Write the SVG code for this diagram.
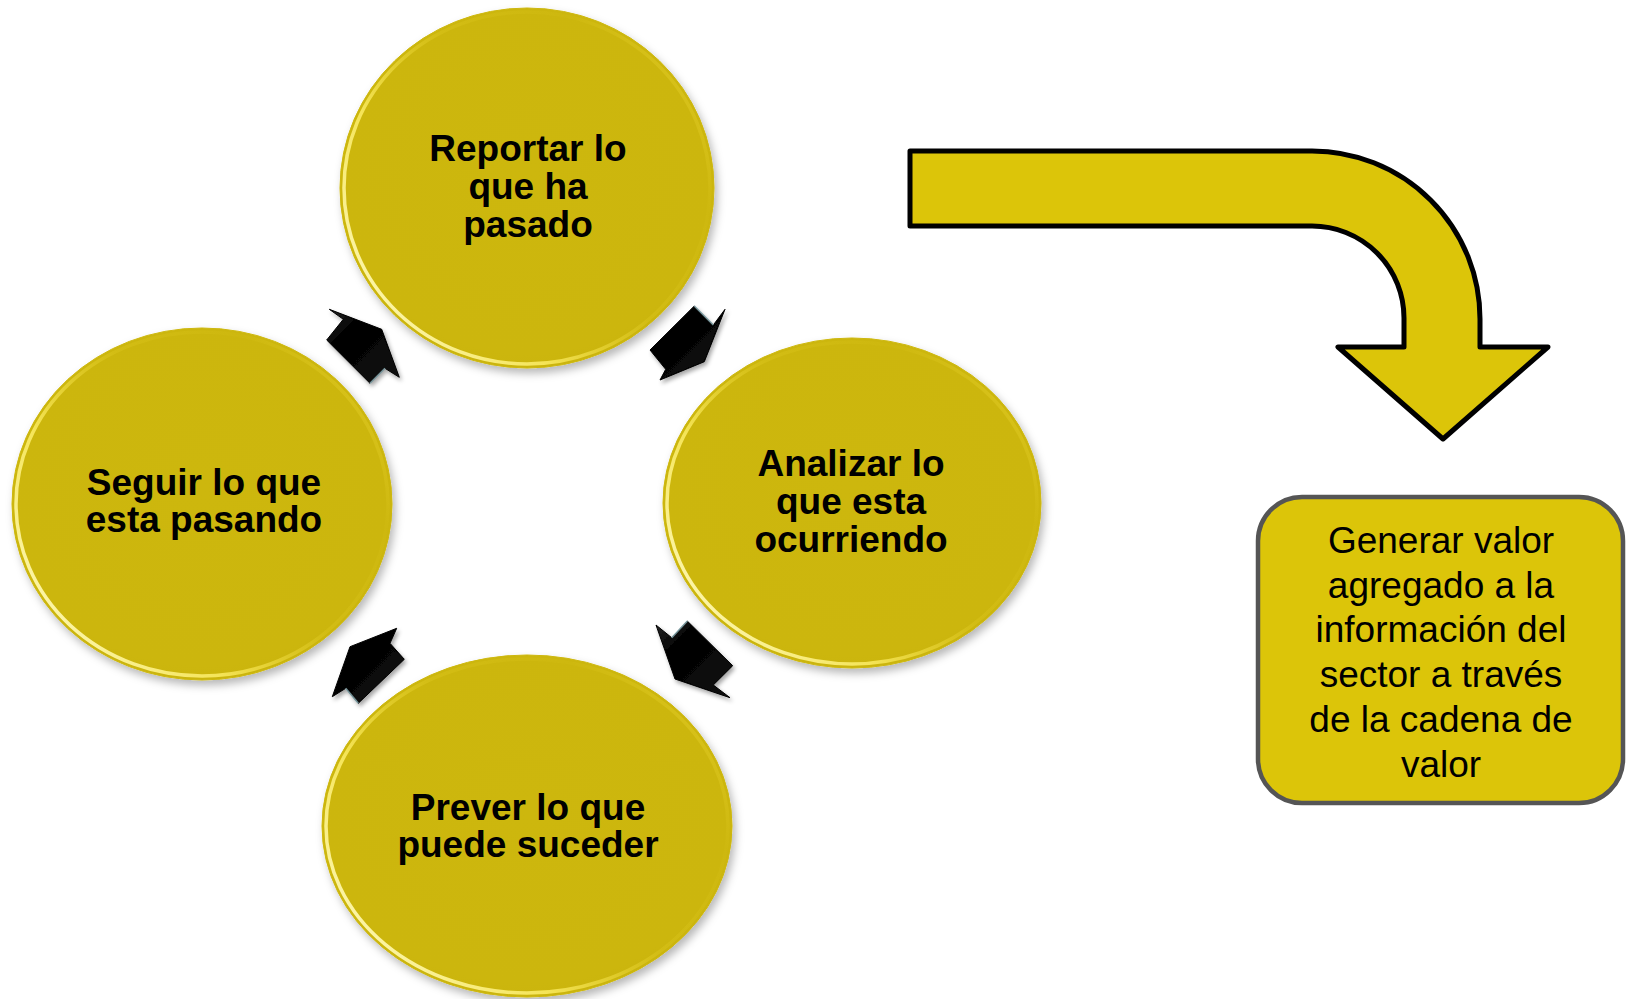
<svg xmlns="http://www.w3.org/2000/svg" width="1626" height="999" viewBox="0 0 1626 999">
<defs>
<filter id="sh" x="-10%" y="-10%" width="125%" height="125%">
<feDropShadow dx="3" dy="5" stdDeviation="4" flood-color="#000" flood-opacity="0.28"/>
</filter>
<filter id="sh2" x="-20%" y="-20%" width="150%" height="150%">
<feDropShadow dx="2" dy="3" stdDeviation="2" flood-color="#000" flood-opacity="0.35"/>
</filter>
<radialGradient id="fillg" cx="0.5" cy="0.45" r="0.6">
<stop offset="0" stop-color="#CDB709"/>
<stop offset="0.85" stop-color="#CCB608"/>
<stop offset="1" stop-color="#C9B307"/>
</radialGradient>
<linearGradient id="rim" x1="0" y1="0.85" x2="1" y2="0.15">
<stop offset="0" stop-color="#FFFBC8" stop-opacity="1"/>
<stop offset="0.3" stop-color="#FFF06A" stop-opacity="0.8"/>
<stop offset="0.55" stop-color="#EED830" stop-opacity="0.2"/>
<stop offset="0.8" stop-color="#EED830" stop-opacity="0.05"/>
<stop offset="1" stop-color="#F5E040" stop-opacity="0.45"/>
</linearGradient>
<linearGradient id="blk" x1="0" y1="0" x2="1" y2="1">
<stop offset="0" stop-color="#2a2a2a"/>
<stop offset="0.3" stop-color="#000"/>
<stop offset="1" stop-color="#111"/>
</linearGradient>
</defs>
<style>
.circ{fill:url(#fillg);stroke:#CDB709;stroke-width:1;filter:url(#sh)}
.rim{fill:none;stroke:url(#rim);stroke-width:3.5}
.lbl{font-family:"Liberation Sans",Arial,sans-serif;font-weight:bold;font-size:37px;fill:#000;text-anchor:middle}
.box{fill:#DCC509;stroke:#555;stroke-width:4.5}
.btx{font-family:"Liberation Sans",Arial,sans-serif;font-size:37px;fill:#000;text-anchor:middle}
.sa{fill:url(#blk);stroke:#000;stroke-width:1;stroke-linejoin:round;filter:url(#sh2)}
.hl{fill:none;stroke:#8fb4bc;stroke-width:1.6;opacity:0.8}
.big{fill:#DCC509;stroke:#000;stroke-width:5;stroke-linejoin:round}
</style>
<rect width="1626" height="999" fill="#fff"/>

<g id="node-reportar">
<ellipse class="circ" cx="527" cy="188" rx="187" ry="180"/>
<ellipse class="rim" cx="527" cy="188" rx="183" ry="176"/>
<text class="lbl" x="528" y="161">Reportar lo</text>
<text class="lbl" x="528" y="199">que ha</text>
<text class="lbl" x="528" y="237">pasado</text>
</g>

<g id="node-analizar">
<ellipse class="circ" cx="852" cy="503" rx="189" ry="165"/>
<ellipse class="rim" cx="852" cy="503" rx="185" ry="161"/>
<text class="lbl" x="851" y="476">Analizar lo</text>
<text class="lbl" x="851" y="514">que esta</text>
<text class="lbl" x="851" y="552">ocurriendo</text>
</g>

<g id="node-prever">
<ellipse class="circ" cx="527" cy="826" rx="205" ry="171"/>
<ellipse class="rim" cx="527" cy="826" rx="201" ry="167"/>
<text class="lbl" x="528" y="820">Prever lo que</text>
<text class="lbl" x="528" y="857">puede suceder</text>
</g>

<g id="node-seguir">
<ellipse class="circ" cx="202" cy="504" rx="190" ry="176"/>
<ellipse class="rim" cx="202" cy="504" rx="186" ry="172"/>
<text class="lbl" x="204" y="495">Seguir lo que</text>
<text class="lbl" x="204" y="532">esta pasando</text>
</g>

<g id="node-generar">
<rect class="box" x="1258" y="497" width="365" height="306" rx="44" ry="44"/>
<text class="btx" x="1441" y="553">Generar valor</text>
<text class="btx" x="1441" y="598">agregado a la</text>
<text class="btx" x="1441" y="642">información del</text>
<text class="btx" x="1441" y="687">sector a través</text>
<text class="btx" x="1441" y="732">de la cadena de</text>
<text class="btx" x="1441" y="777">valor</text>
</g>

<g id="connectors">
<polygon class="sa" points="329.3,309.3 381.7,329.3 399.3,377.3 385,368.3 370,383.3 326.7,340 343.3,319.3"/>
<polyline class="hl" points="370,383.3 385,368.3"/>
<polygon class="sa" points="694.3,306 713.3,325 725,309.3 704.3,361.7 660,380 665.7,369.3 650,350"/>
<polyline class="hl" points="694.3,306 713.3,325"/>
<polygon class="sa" points="656,625 671.7,637.7 687.3,621 732.7,665.7 713.3,685 730,697.7 675,679"/>
<polyline class="hl" points="671.7,637.7 687.3,621"/>
<polygon class="sa" points="396.7,628.3 350,646.7 332.3,696.7 345.7,688.3 358.3,703.3 404.3,659.3 390,643.3"/>
<polyline class="hl" points="345.7,688.3 358.3,703.3"/>
<path class="big" d="M910,151 H1312 A168,168 0 0 1 1480,319 V347 H1548 L1443,439 L1338,347 H1404 V318 A92,92 0 0 0 1312,226 H910 Z"/>
</g>
</svg>
